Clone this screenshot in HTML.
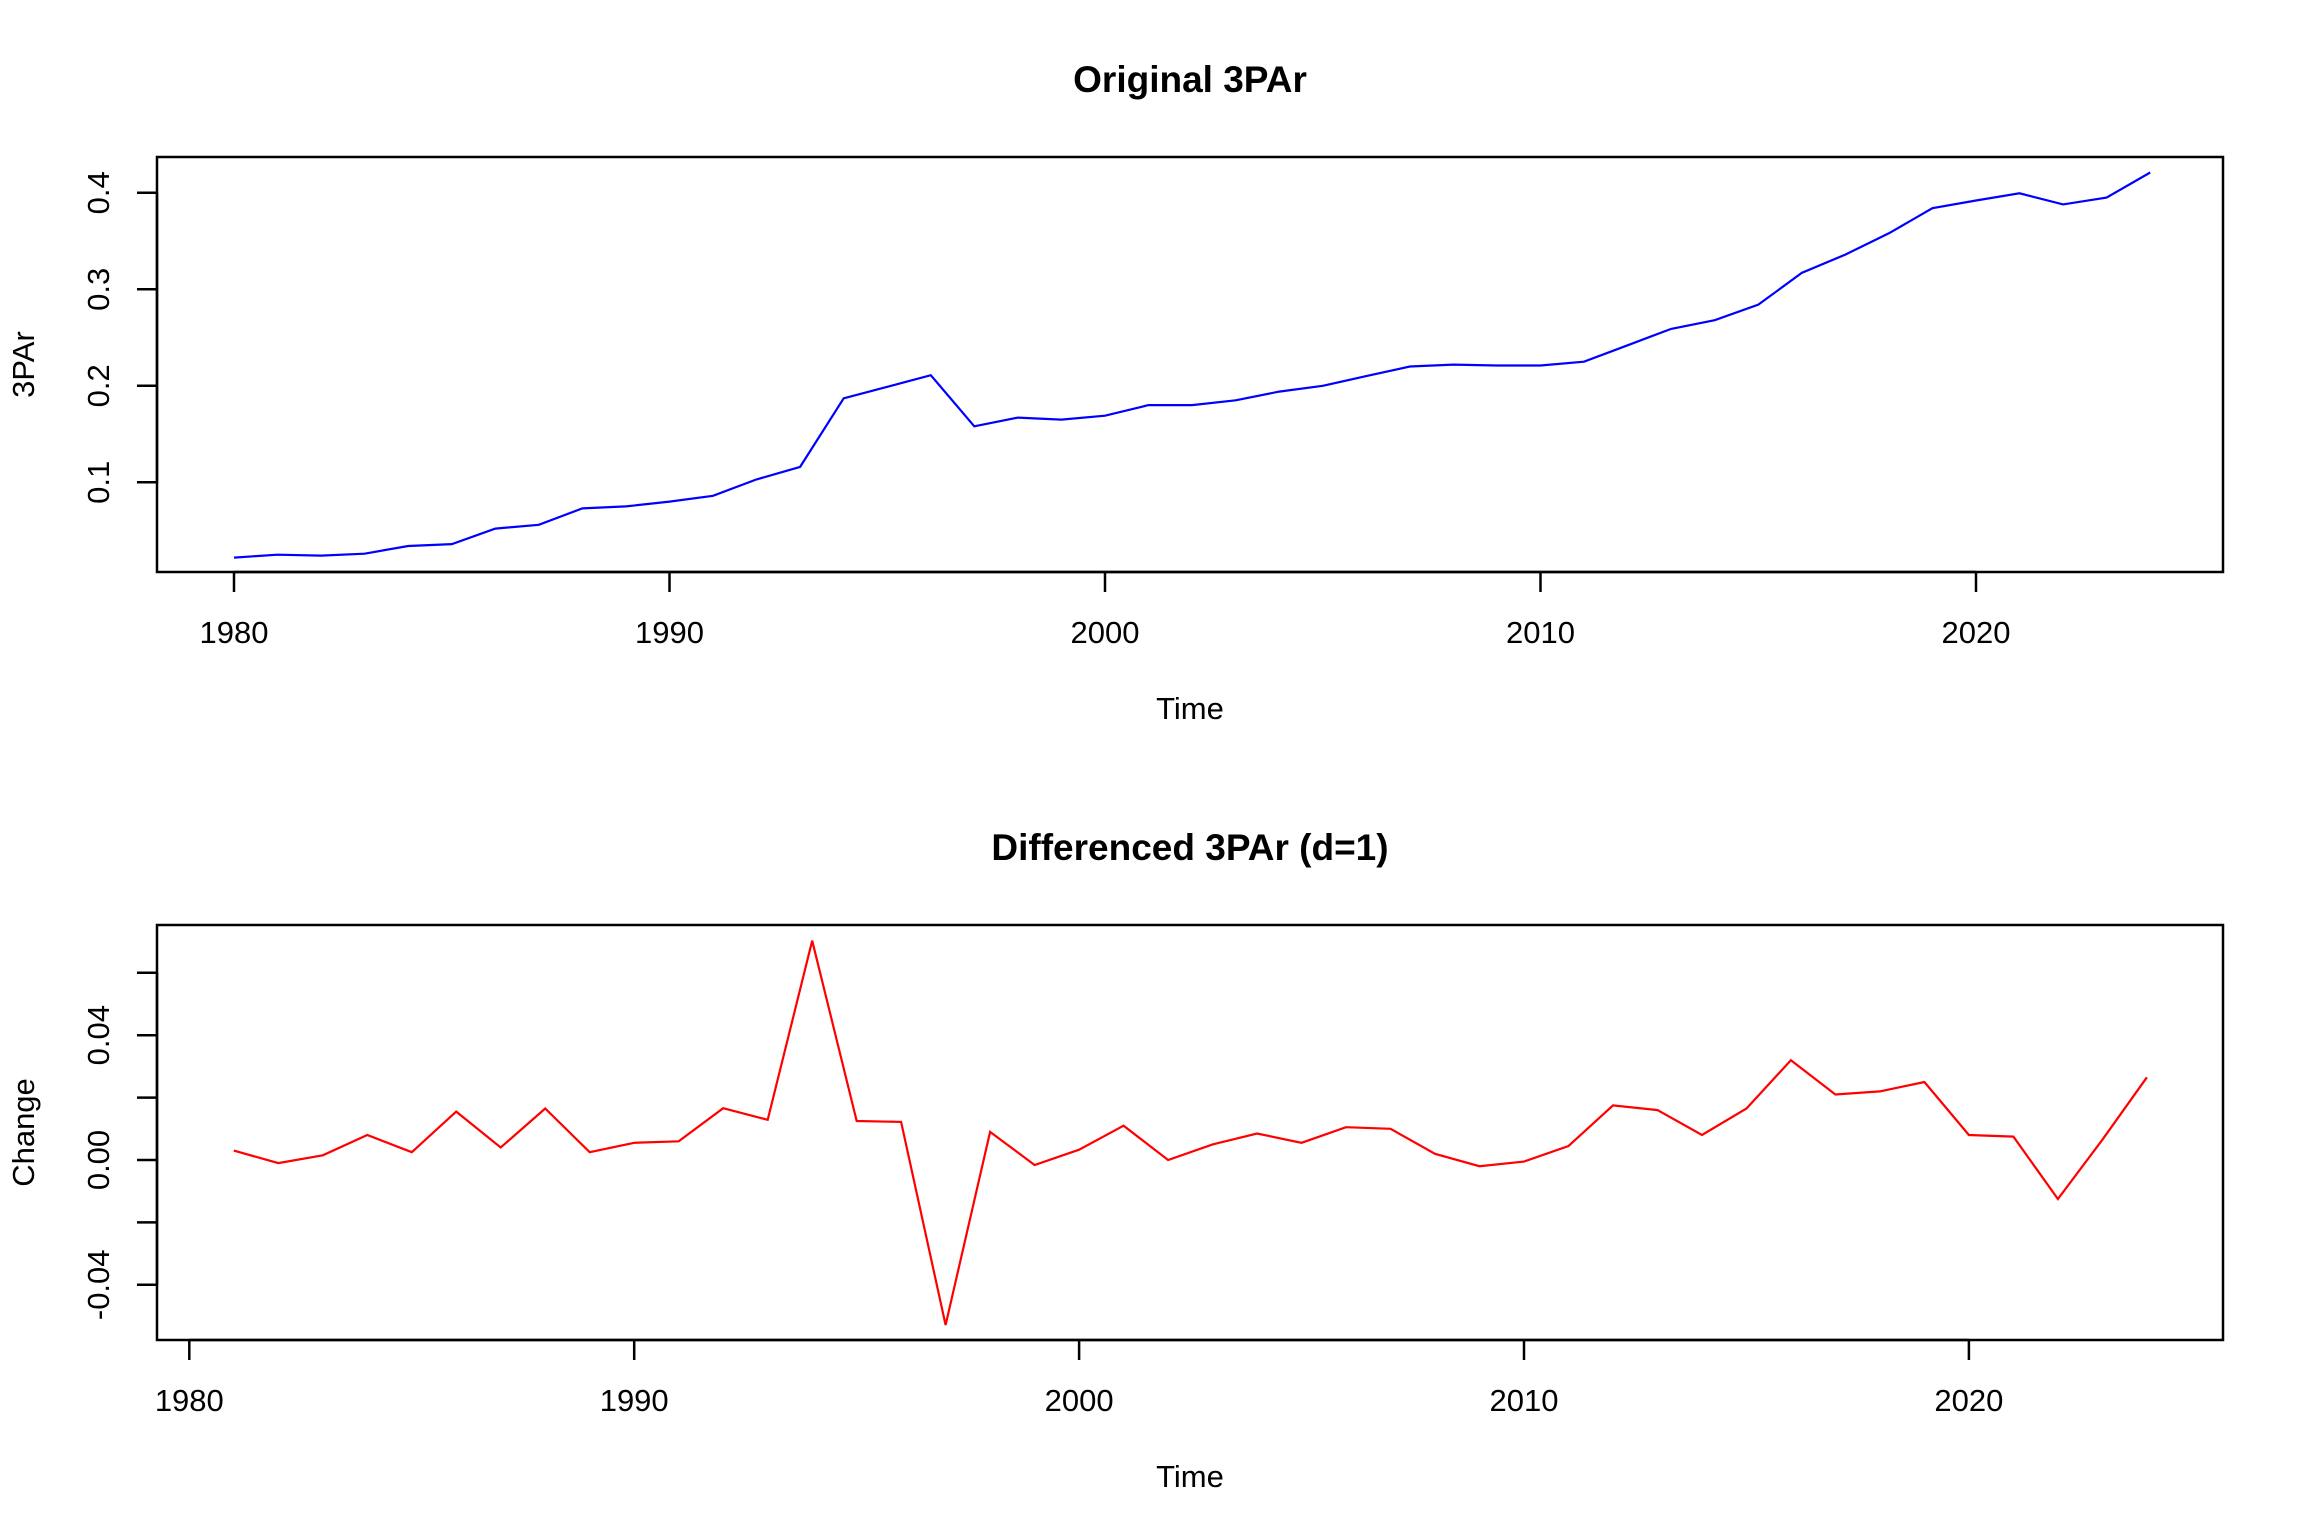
<!DOCTYPE html>
<html><head><meta charset="utf-8">
<style>
html,body{margin:0;padding:0;background:#fff;}
svg{display:block;}
text{font-family:"Liberation Sans",Arial,sans-serif;fill:#000;}
</style></head>
<body>
<svg id="fig" width="2304" height="1536" viewBox="0 0 2304 1536" xmlns="http://www.w3.org/2000/svg">
<g id="top"></g>
<g id="bot"></g>
</svg>
<script>
const years = [1980,1981,1982,1983,1984,1985,1986,1987,1988,1989,1990,1991,1992,1993,1994,1995,1996,1997,1998,1999,2000,2001,2002,2003,2004,2005,2006,2007,2008,2009,2010,2011,2012,2013,2014,2015,2016,2017,2018,2019,2020,2021,2022,2023,2024];
const par3 = [0.022,0.025,0.024,0.026,0.034,0.036,0.052,0.056,0.073,0.075,0.080,0.086,0.103,0.116,0.187,0.199,0.211,0.158,0.167,0.165,0.169,0.180,0.180,0.185,0.194,0.200,0.210,0.220,0.222,0.221,0.221,0.225,0.242,0.259,0.268,0.284,0.317,0.336,0.358,0.384,0.392,0.3995,0.388,0.395,0.421];
const diffYears = years.slice(1);
const diffs = [0.003,-0.001,0.0015,0.008,0.0025,0.0155,0.004,0.0165,0.0025,0.0055,0.006,0.0166,0.0129,0.0703,0.0125,0.0122,-0.0529,0.009,-0.0016,0.0033,0.011,0.0,0.005,0.0085,0.0055,0.0105,0.0100,0.002,-0.002,-0.0005,0.0045,0.0175,0.016,0.008,0.0165,0.032,0.021,0.022,0.025,0.008,0.0075,-0.0125,0.0065,0.0265];
const topXTicks = [1980,1990,2000,2010,2020];
const topYTicks = [0.1,0.2,0.3,0.4];
const topYLabels = ["0.1","0.2","0.3","0.4"];
const botXTicks = [1980,1990,2000,2010,2020];
const botYTicks = [-0.04,-0.02,0,0.02,0.04,0.06];
const botYLabels = ["-0.04","","0.00","","0.04",""];

const NS="http://www.w3.org/2000/svg";
function mk(parent,tag,attrs,txt){const e=document.createElementNS(NS,tag);for(const k in attrs)e.setAttribute(k,attrs[k]);if(txt!==undefined)e.textContent=txt;parent.appendChild(e);return e;}

function panel(g,cfg){
  const L=157,R=2223,T=cfg.top,B=cfg.top+415;
  const xs=v=>cfg.x0+(v-cfg.xv0)*cfg.xk;
  const ys=v=>cfg.y0-v*cfg.yk;
  const t=mk(g,'text',{x:1190,y:T-65,'text-anchor':'middle','font-size':37,'font-weight':'bold'},cfg.title);
  
  
  const box=mk(g,'rect',{x:L,y:T,width:R-L,height:B-T,fill:'none',stroke:'#000','stroke-width':2.5});
  
  
  const xa=mk(g,'g',{});
  
  
  const xt=cfg.xticks;
  mk(xa,'line',{x1:xs(xt[0]),x2:xs(xt[xt.length-1]),y1:B,y2:B,stroke:'#000','stroke-width':2.5});
  xt.forEach(v=>{
    const ln=mk(xa,'line',{x1:xs(v),x2:xs(v),y1:B,y2:B+20,stroke:'#000','stroke-width':2.5});
    
    
    const lb=mk(xa,'text',{x:xs(v),y:B+71,'text-anchor':'middle','font-size':31},String(v));
    
    
  });
  const xl=mk(g,'text',{x:1190,y:B+147,'text-anchor':'middle','font-size':31},'Time');
  
  
  const ya=mk(g,'g',{});
  
  
  const yt=cfg.yticks;
  mk(ya,'line',{x1:L,x2:L,y1:ys(yt[0]),y2:ys(yt[yt.length-1]),stroke:'#000','stroke-width':2.5});
  yt.forEach((v,i)=>{
    const ln=mk(ya,'line',{x1:L-20,x2:L,y1:ys(v),y2:ys(v),stroke:'#000','stroke-width':2.5});
    
    
    if(cfg.ylabels[i]){
      const lb=mk(ya,'text',{x:0,y:0,'text-anchor':'middle','font-size':31,transform:`translate(109,${ys(v)}) rotate(-90)`},cfg.ylabels[i]);
      
      
    }
  });
  const yl=mk(g,'text',{x:0,y:0,'text-anchor':'middle','font-size':31,transform:`translate(34,${(T+B)/2}) rotate(-90)`},cfg.ylabel);
  
  
  const pts=cfg.xv.map((x,i)=>xs(x).toFixed(1)+','+ys(cfg.yv[i]).toFixed(1)).join(' ');
  const pl=mk(g,'polyline',{points:pts,fill:'none',stroke:cfg.color,'stroke-width':2.2,'stroke-linejoin':'miter'});
  
  
}
panel(document.getElementById('top'),{top:157,title:'Original 3PAr',ylabel:'3PAr',x0:234,xv0:1980,xk:43.55,y0:578.8,yk:965,
  xticks:topXTicks,yticks:topYTicks,ylabels:topYLabels,xv:years,yv:par3,color:'#0000ff'});
panel(document.getElementById('bot'),{top:925,title:'Differenced 3PAr (d=1)',ylabel:'Change',x0:189.3,xv0:1980,xk:44.49,y0:1160,yk:3120,
  xticks:botXTicks,yticks:botYTicks,ylabels:botYLabels,xv:diffYears,yv:diffs,color:'#ff0000'});
</script>
</body></html>
